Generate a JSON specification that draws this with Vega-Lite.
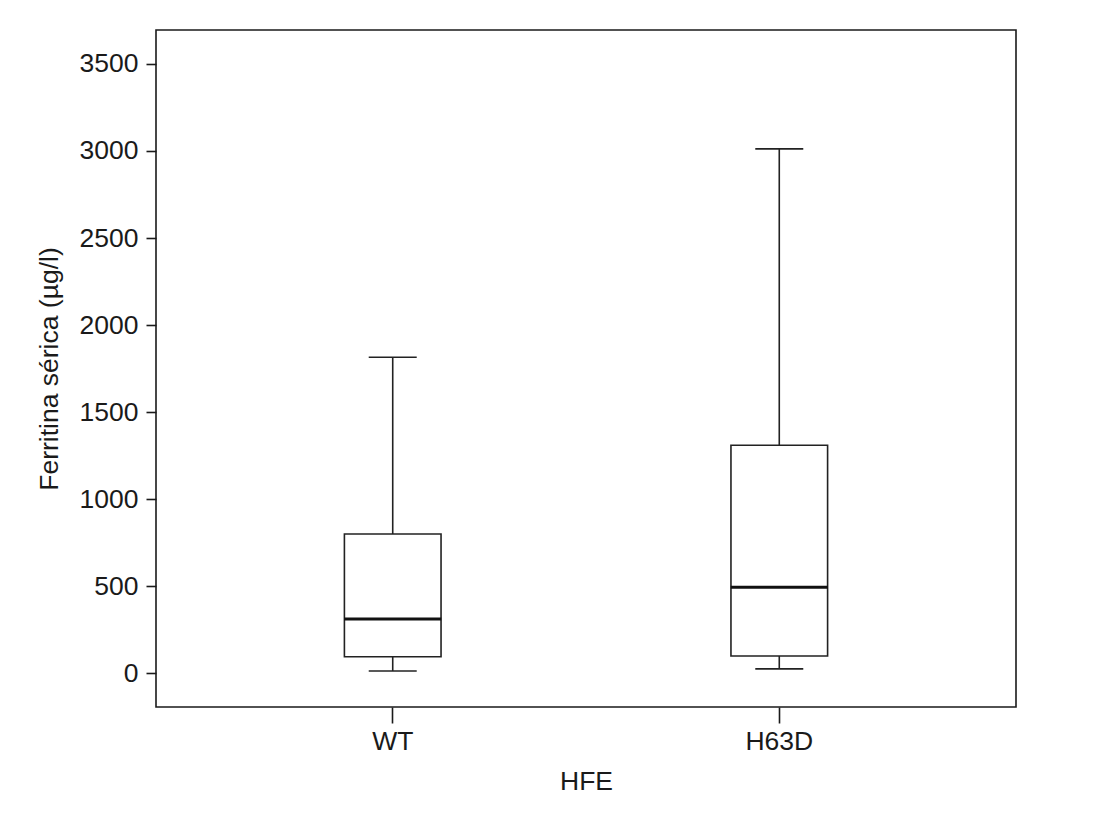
{
  "$schema": "https://vega.github.io/schema/vega-lite/v6.json",
  "autosize": "none",
  "padding": {"left": 156, "top": 30, "right": 96, "bottom": 109},
  "width": 860,
  "height": 677,
  "background": "white",
  "config": {
    "view": {"stroke": "#1a1a1a", "strokeWidth": 1.6},
    "font": "Liberation Sans",
    "axis": {
      "grid": false,
      "domain": false,
      "tickColor": "#1a1a1a",
      "tickWidth": 1.6,
      "labelFont": "Liberation Sans",
      "titleFont": "Liberation Sans",
      "labelFontSize": 26.5,
      "titleFontSize": 26.5,
      "labelColor": "#1a1a1a",
      "titleColor": "#1a1a1a",
      "titleFontWeight": "normal"
    }
  },
  "data": {
    "values": [
      {"group": "WT", "lower": 13, "q1": 95, "median": 312, "q3": 800, "upper": 1815},
      {"group": "H63D", "lower": 25, "q1": 99, "median": 494, "q3": 1310, "upper": 3012}
    ]
  },
  "encoding": {
    "x": {
      "field": "group",
      "type": "nominal",
      "sort": ["WT", "H63D"],
      "scale": {"paddingInner": 0.75, "paddingOuter": 0.4874},
      "axis": {"title": "HFE", "labelAngle": 0, "tickSize": 16, "labelPadding": 5, "titlePadding": 14}
    }
  },
  "layer": [
    {
      "mark": {"type": "rule", "color": "#222222", "strokeWidth": 1.6},
      "encoding": {
        "y": {
          "field": "lower",
          "type": "quantitative",
          "scale": {"domain": [-194, 3695], "nice": false, "zero": false},
          "axis": {
            "title": "Ferritina sérica (µg/l)",
            "format": "d",
            "values": [0, 500, 1000, 1500, 2000, 2500, 3000, 3500],
            "tickSize": 10,
            "labelPadding": 8,
            "titlePadding": 16
          }
        },
        "y2": {"field": "upper"}
      }
    },
    {
      "mark": {"type": "bar", "fill": "white", "stroke": "#222222", "strokeWidth": 1.6},
      "encoding": {
        "y": {"field": "q1", "type": "quantitative"},
        "y2": {"field": "q3"}
      }
    },
    {
      "mark": {"type": "tick", "color": "#111111", "thickness": 3, "size": 97, "opacity": 1},
      "encoding": {"y": {"field": "median", "type": "quantitative"}}
    },
    {
      "mark": {"type": "tick", "color": "#222222", "thickness": 1.6, "size": 48, "opacity": 1},
      "encoding": {"y": {"field": "upper", "type": "quantitative"}}
    },
    {
      "mark": {"type": "tick", "color": "#222222", "thickness": 1.6, "size": 48, "opacity": 1},
      "encoding": {"y": {"field": "lower", "type": "quantitative"}}
    }
  ]
}
